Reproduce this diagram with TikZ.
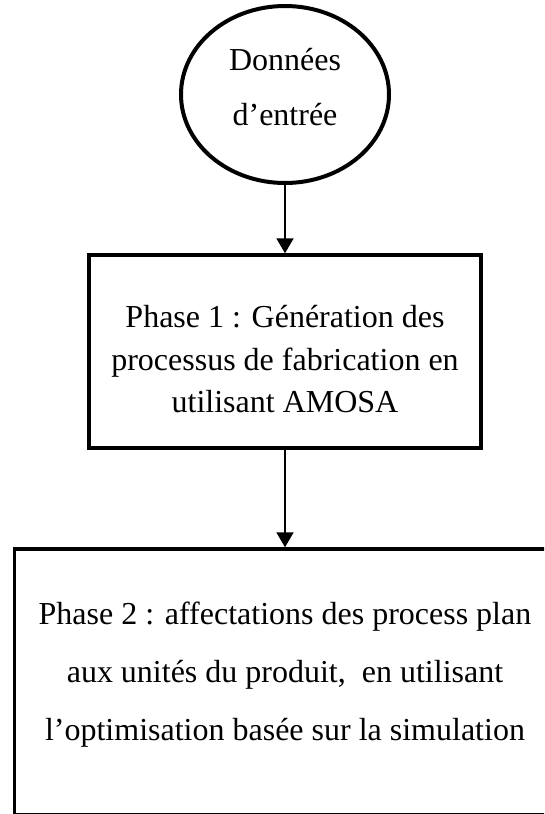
\documentclass[tikz,border=0pt]{standalone}
\usepackage{fontspec}
\setmainfont{Liberation Serif}
\usetikzlibrary{shapes.geometric,arrows.meta,positioning}

\begin{document}
\begin{tikzpicture}[x=1pt,y=-1pt,node distance=3cm,on grid,
  >={Triangle[length=15pt,width=17pt]},
  txt/.style={align=center,font=\fontsize{32}{#1}\selectfont},
  entree/.style={ellipse,draw,line width=4pt,inner sep=0pt,minimum width=208pt,minimum height=177pt,txt=55pt},
  phase/.style={rectangle,draw,line width=3.5pt,inner sep=0pt}]
   \path[use as bounding box,clip] (0,0) rectangle (544,814);
   \node[entree] (DE) at (285,94.5) {Données\\d’entrée\rule[-15pt]{0pt}{15pt}};
   \node[phase,txt=42.5pt,minimum width=392pt,minimum height=193pt] (PH1) [below=257pt of DE]
      {\rule{0pt}{38pt}Phase 1 : Génération des\\processus de fabrication en\\utilisant AMOSA};
   \node[phase,txt=58pt,minimum width=541pt,minimum height=266pt] (PH2) [below=330.5pt of PH1]
      {Phase 2 : affectations des process plan\\aux unités du produit,~ en utilisant\\l’optimisation basée sur la simulation\rule[-22pt]{0pt}{22pt}};
    \path[->,line width=2pt]
    (DE) edge (PH1)
    (PH1) edge (PH2);
\end{tikzpicture}
\end{document}
